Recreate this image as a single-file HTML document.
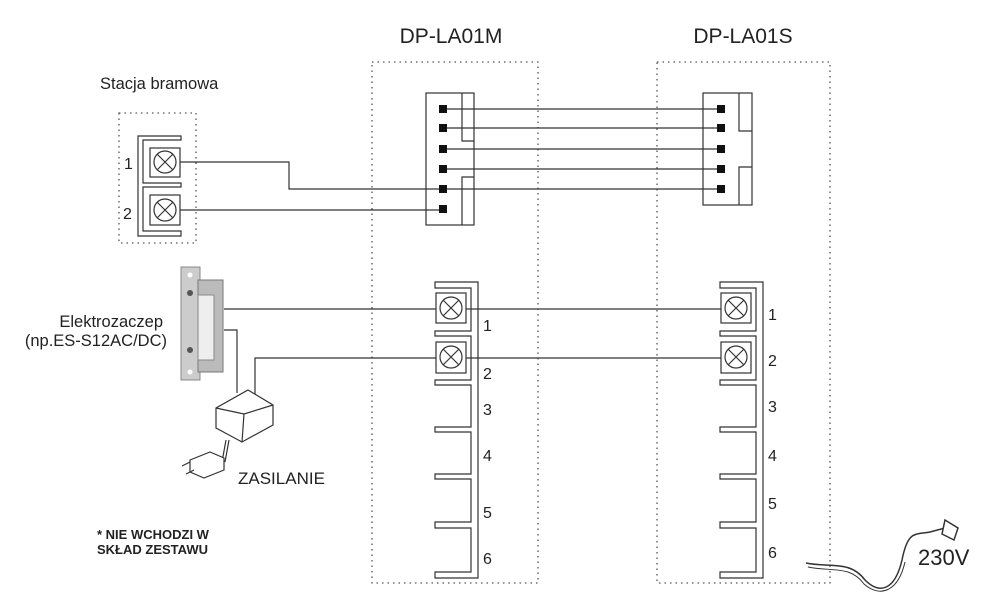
<!DOCTYPE html>
<html><head><meta charset="utf-8"><style>
body{margin:0;background:#fff}
svg{display:block}
text{font-family:"Liberation Sans",sans-serif;fill:#222}
</style></head><body>
<svg width="1000" height="614" viewBox="0 0 1000 614" xmlns="http://www.w3.org/2000/svg">
<g fill="none" stroke="#555" stroke-width="1.3" stroke-dasharray="1.5 4">
<rect x="372" y="62" width="166" height="521"/>
<rect x="657" y="62" width="173" height="521"/>
<rect x="119" y="113" width="77" height="130"/>
</g>
<text x="451" y="43" font-size="21" text-anchor="middle">DP-LA01M</text>
<text x="743" y="43" font-size="21" text-anchor="middle">DP-LA01S</text>
<text x="100" y="89" font-size="16.5">Stacja bramowa</text>
<text x="163" y="327" font-size="16.5" text-anchor="end">Elektrozaczep</text>
<text x="167" y="346" font-size="16.5" text-anchor="end">(np.ES-S12AC/DC)</text>
<text x="238" y="484" font-size="17">ZASILANIE</text>
<text x="97" y="539" font-size="13" font-weight="bold">* NIE WCHODZI W</text>
<text x="97" y="554" font-size="13" font-weight="bold">SKŁAD ZESTAWU</text>
<text x="918" y="565" font-size="22">230V</text>

<g fill="none" stroke="#333" stroke-width="1.2">
<path d="M181 136 H138 V236 H181 V231 H143 V187 H181 V183 H143 V140 H181 Z"/>
<rect x="150" y="148" width="30" height="29"/><rect x="150" y="195" width="30" height="30"/>
<circle cx="165" cy="162" r="11"/><circle cx="165" cy="210" r="11"/>
<path d="M157 154 L173 170 M173 154 L157 170 M157 202 L173 218 M173 202 L157 218"/>
<rect x="426" y="93" width="48" height="132"/>
<path d="M462 93 V141 H474 M474 177 H462 V225"/>
<rect x="703" y="93" width="49" height="112"/>
<path d="M739 93 V131 H752 M752 167 H739 V205"/>
<path d="M180 162 H289 V189 H443 M180 210 H443"/>
<path d="M443 109 H721 M443 128 H721 M443 149 H721 M443 169 H721 M443 189 H721"/>
<path d="M224 309 H735 M224 330 H237 V393 M255 395 V358 H735"/>
</g>
<g fill="#111">
<rect x="439" y="105" width="8" height="8"/><rect x="439" y="124" width="8" height="8"/><rect x="439" y="145" width="8" height="8"/><rect x="439" y="165" width="8" height="8"/><rect x="439" y="185" width="8" height="8"/><rect x="439" y="205" width="8" height="8"/>
<rect x="717" y="105" width="8" height="8"/><rect x="717" y="124" width="8" height="8"/><rect x="717" y="145" width="8" height="8"/><rect x="717" y="165" width="8" height="8"/><rect x="717" y="185" width="8" height="8"/>
</g>
<text x="124" y="169" font-size="16">1</text><text x="123" y="219" font-size="16">2</text>

<g id="tb" fill="none" stroke="#333" stroke-width="1.2">
<path d="M435 282 H478 V578 H435 V572 H471 V528 H435 V522 H471 V479 H435 V474 H471 V432 H435 V427 H471 V385 H435 V380 H471 V336 H435 V331 H471 V288 H435 Z"/>
<rect x="436" y="293" width="30" height="30" fill="#fff"/><rect x="436" y="342" width="30" height="31" fill="#fff"/>
<circle cx="451" cy="308" r="11"/><circle cx="451" cy="357" r="11"/>
<path d="M443 300 L459 316 M459 300 L443 316 M443 349 L459 365 M459 349 L443 365"/>
</g>
<use href="#tb" x="285"/>
<g font-size="16">
<text x="483" y="331">1</text><text x="483" y="379">2</text><text x="483" y="415">3</text><text x="483" y="461">4</text><text x="483" y="518">5</text><text x="483" y="564">6</text>
<text x="768" y="320">1</text><text x="768" y="366">2</text><text x="768" y="412">3</text><text x="768" y="461">4</text><text x="768" y="509">5</text><text x="768" y="558">6</text>
</g>
<rect x="181" y="267" width="19" height="113" fill="#ccc" stroke="#888"/>
<rect x="198" y="280" width="25" height="92" fill="#bbb" stroke="#777"/>
<rect x="198" y="295" width="16" height="65" fill="#eee" stroke="#888"/>
<circle cx="190" cy="275" r="2.5" fill="#fff"/><circle cx="190" cy="372" r="2.5" fill="#fff"/>
<circle cx="190" cy="293" r="3" fill="#555"/><circle cx="190" cy="350" r="3" fill="#555"/>
<g fill="#fff" stroke="#333" stroke-width="1.2">
<path d="M248 390 L273 405 V425 L242 442 L216 428 V408 Z"/>
<path d="M216 408 L244 414 L273 405 M244 414 L242 442" fill="none"/>
<path d="M226 440 L222 462 M229 440 L225 462" fill="none"/>
<path d="M190 460 L210 452 L224 458 V470 L204 478 L190 472 Z"/>
<path d="M190 462 L182 466 M194 470 L186 474" fill="none"/>
</g>
<g fill="none" stroke="#333" stroke-width="1.5">
<path d="M806 563 C830 568 850 560 865 580 C880 595 895 590 902 560 C908 530 915 535 930 532 L945 528"/>
<path d="M808 567 C832 572 850 565 864 584 C880 598 898 592 905 562" stroke-width="1"/>
<path d="M945 520 L958 528 L954 540 L942 534 Z" fill="#fff"/>
</g>
</svg>
</body></html>
